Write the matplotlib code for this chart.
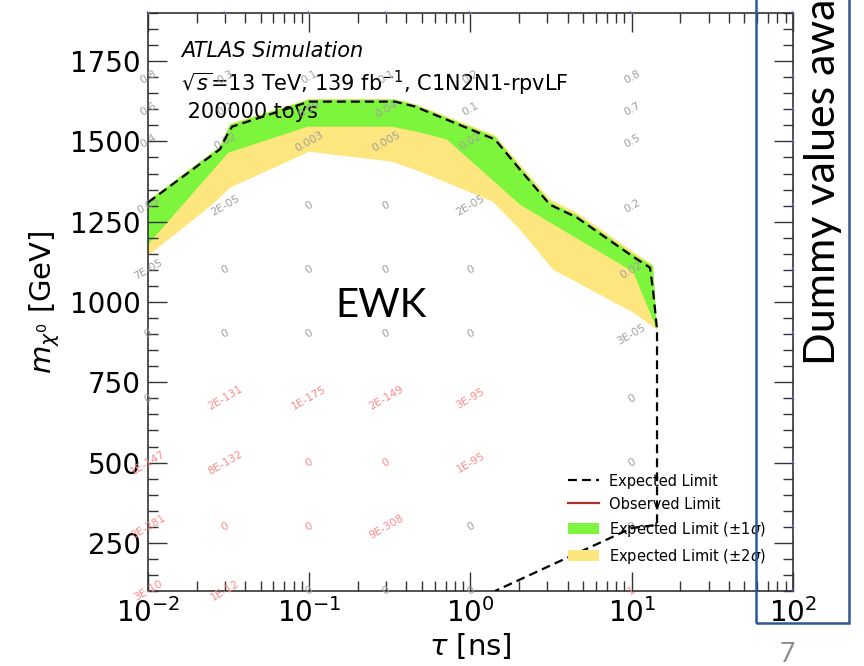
import numpy as np
import matplotlib.pyplot as plt
from matplotlib.ticker import MultipleLocator
from matplotlib.patches import Rectangle, Patch
from matplotlib.lines import Line2D

# expected limit (dashed)
exp_tau = [0.01, 0.028, 0.031, 0.0332, 0.1, 0.34, 0.45, 1.42, 2.03, 3.11, 4.57, 10.2, 12.97, 13.55, 14.35, 14.35, 10.0, 1.42]
exp_mass = [1310, 1476, 1521, 1546, 1624, 1624, 1609, 1506, 1412, 1303, 1263, 1141, 1107, 1038, 914, 306, 296, 100]

# +-1 sigma band
g_up_tau = [0.01, 0.028, 0.0323, 0.1, 0.34, 0.45, 1.42, 2.03, 3.11, 4.57, 10.2, 13.55, 14.35]
g_up_mass = [1314, 1483, 1552, 1630, 1630, 1614, 1514, 1420, 1310, 1270, 1148, 1112, 914]
g_lo_tau = [0.01, 0.0315, 0.098, 0.326, 0.487, 0.714, 2.03, 10.2, 14.35]
g_lo_mass = [1179, 1465, 1546, 1546, 1528, 1506, 1303, 1094, 914]

# +-2 sigma band
y_up_tau = g_up_tau
y_up_mass = [1316, 1485, 1555, 1632, 1632, 1617, 1520, 1428, 1320, 1278, 1157, 1115, 914]
y_lo_tau = [0.01, 0.025, 0.0323, 0.1, 0.326, 0.487, 1.38, 2.03, 3.25, 10.2, 14.35]
y_lo_mass = [1144, 1303, 1356, 1468, 1437, 1406, 1312, 1225, 1101, 967, 914]

# numbers printed on the grid points
grid_tau = [0.01, 0.03, 0.1, 0.3, 1, 10]
grid_mass = [1700, 1600, 1500, 1300, 1100, 900, 700, 500, 300, 100]
grid_text = [
    ["0.8", "0.3", "0.1", "0.1", "0.2", "0.8"],
    ["0.6", "0.2", "0.09", "0.04", "0.1", "0.7"],
    ["0.4", "0.02", "0.003", "0.005", "0.02", "0.5"],
    ["0.05", "2E-05", "0", "0", "2E-05", "0.2"],
    ["7E-05", "0", "0", "0", "0", "0.02"],
    ["0", "0", "0", "0", "0", "3E-05"],
    ["0", "2E-131", "1E-175", "2E-149", "3E-95", "0"],
    ["1E-147", "8E-132", "0", "0", "1E-95", "0"],
    ["3E-281", "0", "0", "9E-308", "0", "0"],
    ["3E-10", "1E-12", "0", "0", "0", "1"],
]
grid_red = [
    [0, 0, 0, 0, 0, 0],
    [0, 0, 0, 0, 0, 0],
    [0, 0, 0, 0, 0, 0],
    [0, 0, 0, 0, 0, 0],
    [0, 0, 0, 0, 0, 0],
    [0, 0, 0, 0, 0, 0],
    [0, 1, 1, 1, 1, 0],
    [1, 1, 1, 1, 1, 0],
    [1, 1, 1, 1, 0, 0],
    [1, 1, 0, 0, 0, 1],
]
edge_tau = grid_tau + [100]
edge_mass = [1900] + grid_mass

fig = plt.figure(figsize=(8.64, 6.66), dpi=100)
ax = fig.add_axes([0.1713, 0.1126, 0.7465, 0.8679])

ax.fill(np.r_[y_up_tau, y_lo_tau[::-1]], np.r_[y_up_mass, y_lo_mass[::-1]], color='#fde67e', lw=0)
ax.fill(np.r_[g_up_tau, g_lo_tau[::-1]], np.r_[g_up_mass, g_lo_mass[::-1]], color='#7df53c', lw=0)
ax.plot(exp_tau, exp_mass, color='black', ls='--', lw=1.6, dashes=(4, 2.3), zorder=5)

for i, m in enumerate(grid_mass):
    for j, t in enumerate(grid_tau):
        c = '#ff8a8a' if grid_red[i][j] else '#a0a0a0'
        ax.text(t, m, grid_text[i][j], rotation=30, fontsize=7.8, color=c,
                ha='center', va='center', zorder=4)
for t in edge_tau:
    ax.text(t, 1900, "1", rotation=30, fontsize=4.5, color='#8c8cff', ha='center', va='center')
for m in grid_mass:
    ax.text(100, m, "1", rotation=30, fontsize=4.5, color='#8c8cff', ha='center', va='center')

ax.set_xscale('log')
ax.set_xlim(0.01, 100)
ax.set_ylim(100, 1900)
ax.yaxis.set_major_locator(MultipleLocator(250))
ax.yaxis.set_minor_locator(MultipleLocator(50))
ax.tick_params(which='both', direction='in', top=True, right=True, width=1.0, color='#333333')
ax.tick_params(which='major', length=14, labelsize=20, pad=5)
ax.tick_params(which='minor', length=7)
for s in ax.spines.values():
    s.set_linewidth(1.2)
    s.set_color('#333333')

ax.set_xlabel(r'$\tau$ [ns]', fontsize=21, labelpad=2)
ax.set_ylabel(r'$m_{\chi^0}$ [GeV]', fontsize=21, labelpad=6)

ax.text(0.051, 0.924, 'ATLAS Simulation', style='italic', fontsize=15, transform=ax.transAxes)
ax.text(0.051, 0.865, r'$\sqrt{s}$=13 TeV, 139 fb$^{-1}$, C1N2N1-rpvLF', fontsize=15, transform=ax.transAxes)
ax.text(0.051, 0.818, ' 200000 toys', fontsize=15, transform=ax.transAxes)

handles = [
    Line2D([], [], color='black', ls='--', lw=1.6, dashes=(4, 2.3)),
    Line2D([], [], color='#a8322d', lw=1.6),
    Patch(color='#7df53c', lw=0),
    Patch(color='#fde67e', lw=0),
]
labels = ['Expected Limit', 'Observed Limit',
          r'Expected Limit ($\pm1\sigma$)', r'Expected Limit ($\pm2\sigma$)']
ax.legend(handles, labels, loc='upper left', bbox_to_anchor=(0.651, 0.203), frameon=False,
          fontsize=10.5, borderpad=0, borderaxespad=0, handlelength=2.1, handleheight=0.8,
          labelspacing=0.55, handletextpad=0.75)

# slide annotations
fig.text(0.441, 0.542, 'EWK', fontsize=29, family='Lato', ha='center', va='center')
fig.text(0.9525, 0.452, 'Dummy values away from data', fontsize=31, family='Lato',
         rotation=90, ha='center', va='bottom')
fig.add_artist(Rectangle((0.875, 0.0646), 0.1076, 1.0, transform=fig.transFigure,
                         fill=False, edgecolor='#2f5597', lw=1.8))
fig.text(0.911, 0.006, '7', fontsize=19, family='Lato', color='#8c8c8c', ha='center', va='baseline')

fig.savefig('out.png', dpi=100)
